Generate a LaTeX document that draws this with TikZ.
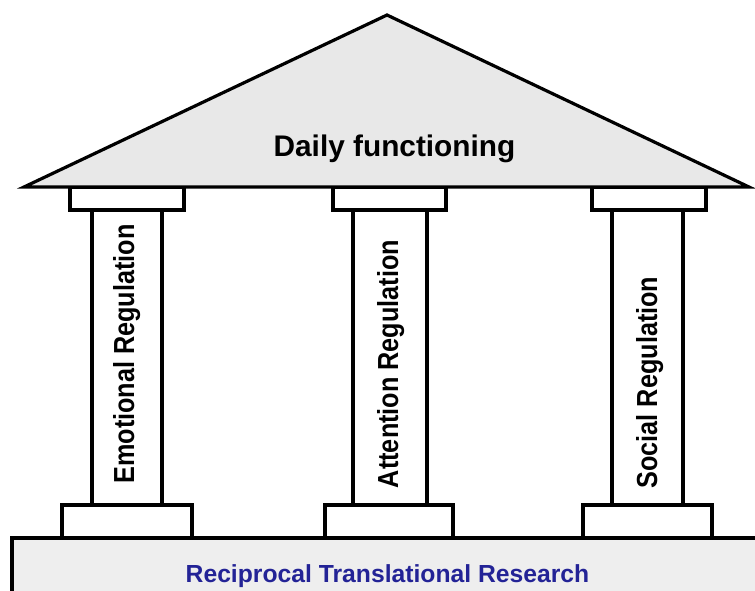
\documentclass[tikz,border=0pt]{standalone}
\usepackage{fontspec}
\setmainfont{Liberation Sans}
\definecolor{roofgray}{RGB}{232,232,232}
\definecolor{platgray}{RGB}{238,238,238}
\definecolor{labelblue}{RGB}{35,35,150}
\tikzset{
  part/.style={draw=black, line width=3.2pt, line join=miter, fill=white},
  pillarlabel/.style={rotate=90, anchor=base, inner sep=0pt, font=\bfseries\fontsize{29}{29}\selectfont},
}
\begin{document}
\begin{tikzpicture}[x=1pt,y=-1pt]
\useasboundingbox (0,0) rectangle (755,590);
\begin{scope}
\clip (0,0) rectangle (755,590);
% platform
\draw[part, fill=platgray] (12,538) rectangle (790,620);
% shafts
\draw[part] (92,210) rectangle (162,505);
\draw[part] (353,210) rectangle (427,505);
\draw[part] (612,210) rectangle (683,505);
% bases
\draw[part] (62,505) rectangle (192,538);
\draw[part] (325,505) rectangle (453,538);
\draw[part] (583,505) rectangle (712,538);
% capitals
\draw[part] (70,187) rectangle (184,210);
\draw[part] (333,187) rectangle (446,210);
\draw[part] (592,187) rectangle (706,210);
% roof
\draw[part, fill=roofgray] (24,187) -- (387,15) -- (749,187) -- cycle;
\end{scope}
% texts
\node[anchor=base, inner sep=0pt, font=\bfseries\fontsize{29.8}{29.8}\selectfont] (roof) at (394.5,156) {Daily functioning};
\node[anchor=base, inner sep=0pt, text=labelblue, font=\bfseries\fontsize{24.7}{24.7}\selectfont] (found) at (387.5,582) {Reciprocal Translational Research};
\node[pillarlabel] (emo) at (134,354) {\scalebox{0.87}[1]{Emotional Regulation}};
\node[pillarlabel] (att) at (398,364) {\scalebox{0.87}[1]{Attention Regulation}};
\node[pillarlabel] (soc) at (657,382.5) {\scalebox{0.87}[1]{Social Regulation}};
\end{tikzpicture}
\end{document}
